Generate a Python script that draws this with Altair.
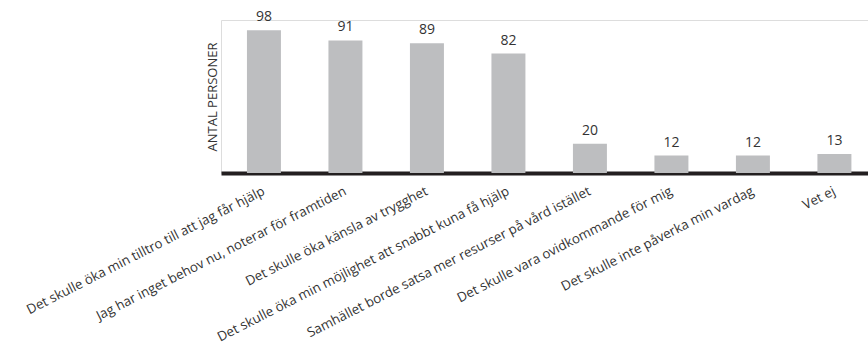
import altair as alt
import pandas as pd

categories = [
    "Det skulle öka min tilltro till att jag får hjälp",
    "Jag har inget behov nu, noterar för framtiden",
    "Det skulle öka känsla av trygghet",
    "Det skulle öka min möjlighet att snabbt kuna få hjälp",
    "Samhället borde satsa mer resurser på vård istället",
    "Det skulle vara ovidkommande för mig",
    "Det skulle inte påverka min vardag",
    "Vet ej",
]
values = [98, 91, 89, 82, 20, 12, 12, 13]

df = pd.DataFrame({"kategori": categories, "antal": values})

FONT = "Open Sans"
TXT = "#333333"

x = alt.X(
    "kategori:N",
    sort=categories,
    title=None,
    scale=alt.Scale(paddingInner=0.583, paddingOuter=0.261, align=0.61),
    axis=alt.Axis(
        labelAngle=-27,
        labelAlign="right",
        labelBaseline="middle",
        labelPadding=17,
        labelFontSize=13.3,
        labelFont=FONT,
        labelColor=TXT,
        labelLimit=0,
        labelOverlap=False,
        ticks=False,
        tickSize=0,
        domainColor="#231f20",
        domainWidth=4,
        grid=False,
    ),
)
y = alt.Y(
    "antal:Q",
    scale=alt.Scale(domain=[0, 105], nice=False),
    axis=alt.Axis(
        title="ANTAL PERSONER",
        titleFont=FONT,
        titleFontSize=13,
        titleFontWeight="normal",
        titleColor=TXT,
        titlePadding=2,
        labels=False,
        ticks=False,
        domain=False,
        grid=False,
    ),
)

base = alt.Chart(df).encode(x=x, y=y)
bars = base.mark_bar(color="#bdbec0")
text = base.mark_text(
    baseline="bottom", dy=-6, fontSize=14, font=FONT, color=TXT
).encode(text="antal:Q")

chart = (
    alt.layer(bars, text)
    .properties(
        width=647,
        height=153,
        autosize=alt.AutoSizeParams(type="none"),
        padding={"left": 221, "top": 20, "right": 0, "bottom": 176},
    )
    .configure_view(strokeWidth=0)
    .configure(background="white")
)

chart.save("out.html", embed_options={"renderer": "svg", "actions": False})
